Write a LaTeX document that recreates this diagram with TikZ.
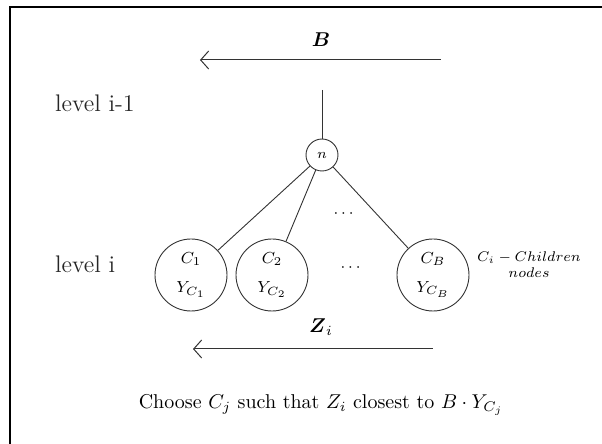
\documentclass[tikz,border=0pt]{standalone}
\usepackage{amsmath}
\usetikzlibrary{arrows.meta}
\begin{document}
\begin{tikzpicture}[x=0.5pt,y=-0.5pt,
  conn/.style={draw=black!80, line width=0.45pt},
  arr/.style={draw=black!80, line width=0.5pt, -{Straight Barb[length=4pt,width=9pt]}},
  child/.style={circle, draw=black!80, line width=0.45pt, minimum size=36pt, inner sep=0pt, align=center, font=\footnotesize},
  small/.style={circle, draw=black!80, line width=0.45pt, minimum size=16pt, inner sep=0pt, font=\scriptsize},
  lvl/.style={anchor=west, font=\large, text=black!85}]
\useasboundingbox (0,0) rectangle (602,444);
\draw[line width=1pt] (602,7) -- (10,7) -- (10,444);
% top arrow
\node (B) at (321,40) {$\boldsymbol{B}$};
\coordinate (Bs) at (441,60);
\coordinate (Be) at (200,60);
\draw[arr] (Bs) -- (Be);
% levels
\node[lvl] (L1) at (48,103) {level i-1};
\node[lvl] (L2) at (48,264) {level i};
% tree
\node[small] (n) at (322,155) {$n$};
\coordinate (top) at (322,90);
\draw[conn] (top) -- (n);
\node[child] (c1) at (191,275) {$C_1$\\[5pt]$Y_{C_1}$};
\node[child] (c2) at (272,275) {$C_2$\\[5pt]$Y_{C_2}$};
\node[child] (cB) at (433,275) {$C_B$\\[5pt]$Y_{C_B}$};
\draw[conn] (n) -- (c1);
\draw[conn] (n) -- (c2);
\draw[conn] (n) -- (cB);
\node (d1) at (345,214) {\footnotesize$\cdots$};
\node (d2) at (352,268) {\footnotesize$\cdots$};
\node[align=center, font=\scriptsize, inner sep=0pt] (ch) at (529,265) {$C_i - Children$\\$nodes$};
% bottom arrow
\node (Z) at (321,327) {$\boldsymbol{Z}_{i}$};
\coordinate (Zs) at (433,349);
\coordinate (Ze) at (193,349);
\draw[arr] (Zs) -- (Ze);
\node (cap) at (321,405) {Choose $C_j$ such that $Z_i$ closest to $B\cdot Y_{C_j}$};
\end{tikzpicture}
\end{document}
